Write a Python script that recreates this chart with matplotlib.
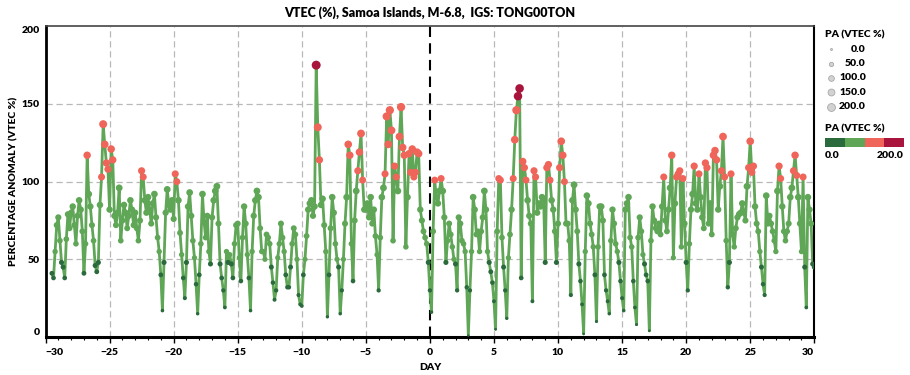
import numpy as np
import matplotlib
matplotlib.use("Agg")
import matplotlib.pyplot as plt
from matplotlib.patches import Rectangle

title = "VTEC (%), Samoa Islands, M-6.8,  IGS: TONG00TON"
step = 3 / 24  # 3-hourly samples, expressed in days

# PA (VTEC %) before the event, 8 samples a day, starting at day -29.5
pa_before = [
    41, 38, 55, 72,
    77, 62, 48, 45, 38, 63, 79, 70,      # -29
    80, 84, 72, 60, 78, 88, 82, 68,      # -28
    41, 60, 117, 92, 84, 72, 62, 46,     # -27
    42, 48, 85, 103, 137, 124, 112, 108, # -26
    82, 121, 114, 78, 72, 80, 96, 62,    # -25
    75, 85, 80, 70, 78, 88, 82, 72,      # -24
    80, 70, 62, 75, 107, 103, 88, 80,    # -23
    90, 82, 73, 86, 92, 77, 64, 55,      # -22
    40, 17, 48, 80, 95, 85, 82, 88,      # -21
    76, 105, 100, 88, 67, 53, 38, 25,    # -20
    48, 84, 93, 78, 62, 51, 34, 15,      # -19
    40, 60, 92, 74, 64, 78, 55, 47,      # -18
    77, 88, 94, 97, 73, 47, 38, 30,      # -17
    19, 55, 48, 53, 47, 38, 60, 72,      # -16
    73, 51, 36, 64, 84, 73, 53, 38,      # -15
    17, 55, 78, 88, 94, 90, 70, 55,      # -14
    55, 50, 66, 64, 60, 45, 35, 24,      # -13
    30, 51, 60, 73, 64, 55, 40, 32,      # -12
    32, 45, 60, 70, 66, 50, 27, 21,      # -11
    20, 40, 50, 65, 82, 86, 88, 78,      # -10
    84, 175, 135, 114, 85, 89, 72, 55,   # -9
    13, 40, 70, 90, 80, 60, 50, 45,      # -8
    15, 30, 50, 73, 90, 124, 117, 60,    # -7
    36, 75, 94, 107, 119, 131, 101, 82,  # -6
    82, 86, 77, 90, 73, 82, 65, 53,      # -5
    30, 64, 90, 96, 105, 142, 124, 146,  # -4
    133, 62, 110, 103, 94, 129, 148, 122, # -3
    117, 58, 90, 118, 106, 121, 103, 106, # -2
    119, 118, 82, 75, 68, 64, 60, 48,    # -1
]

# PA (VTEC %) from the event day on, 8 samples a day, day 0 to day 30
pa_after = [
    30, 16, 68, 101, 90, 86, 94, 102,    # 0
    94, 77, 48, 62, 73, 66, 58, 50,      # 1
    47, 30, 77, 73, 62, 60, 55, 32,      # 2
    1, 30, 55, 90, 82, 66, 68, 55,       # 3
    68, 77, 94, 82, 55, 48, 42, 35,      # 4
    23, 5, 68, 102, 101, 64, 45, 30,     # 5
    12, 51, 66, 82, 102, 127, 146, 155,  # 6
    160, 38, 113, 109, 101, 88, 78, 73,  # 7
    23, 107, 103, 80, 86, 84, 90, 88,    # 8
    48, 109, 111, 101, 88, 82, 68, 48,   # 9
    73, 109, 126, 117, 100, 73, 73, 62,  # 10
    27, 88, 98, 82, 68, 47, 36, 21,      # 11
    2, 55, 91, 86, 73, 66, 58, 40,       # 12
    10, 58, 84, 84, 75, 40, 30, 23,      # 13
    15, 62, 82, 73, 60, 55, 48, 36,      # 14
    25, 17, 82, 86, 90, 64, 58, 36,      # 15
    19, 8, 64, 77, 68, 53, 47, 40,       # 16
    36, 4, 62, 84, 75, 70, 68, 73,       # 17
    66, 84, 103, 75, 68, 82, 96, 117,    # 18
    51, 86, 103, 105, 107, 58, 102, 73,  # 19
    48, 30, 60, 82, 92, 110, 86, 82,     # 20
    105, 90, 77, 70, 112, 109, 73, 86,   # 21
    66, 117, 120, 114, 82, 97, 107, 129, # 22
    103, 62, 32, 48, 105, 66, 58, 70,    # 23
    77, 79, 80, 86, 80, 75, 97, 109,     # 24
    126, 106, 110, 84, 73, 68, 55, 45,   # 25
    34, 27, 91, 73, 78, 73, 68, 62,      # 26
    55, 94, 110, 102, 84, 68, 62, 68,    # 27
    73, 90, 96, 107, 117, 104, 90, 73,   # 28
    55, 103, 45, 19, 90, 82, 73, 47,     # 29
    45,
]

bin_edges = [50, 100, 150]
bin_colors = ["#2b6a3d", "#5fa657", "#f0655a", "#a8143c"]
size_levels = [0.0, 50.0, 100.0, 150.0, 200.0]

x_before = -29.5 + np.arange(len(pa_before)) * step
x_after = np.arange(len(pa_after)) * step
days = np.concatenate([x_before, x_after])
pa = np.array(pa_before + pa_after, dtype=float)

plt.rcParams["font.family"] = ["Lato", "DejaVu Sans"]
FW = "heavy"

fig = plt.figure(figsize=(9.1, 3.75), dpi=100)
ax = fig.add_axes([45.5 / 910, 1 - 337 / 375, (814.3 - 45.5) / 910, (337 - 26.3) / 375])

# grid
for d in [-25, -20, -15, -10, -5, 5, 10, 15, 20, 25]:
    ax.axvline(d, color="#b8b8b8", lw=0.9, ls=(0, (5, 3)), zorder=0)
for v in [50, 100, 150]:
    ax.axhline(v, color="#b8b8b8", lw=0.9, ls=(0, (5, 3)), zorder=0)
ax.axvline(0, color="black", lw=1.5, ls=(0, (5, 3)), zorder=1)

ax.plot(days, pa, color=bin_colors[1], lw=2.0, zorder=2)
cat = np.digitize(pa, bin_edges)
ax.scatter(days, pa, s=pa * 0.22 + 3, c=[bin_colors[k] for k in cat],
           linewidths=0, zorder=3)

ax.set_xlim(-30, 30)
ax.set_ylim(0, 200)
ax.set_xticks(np.arange(-30, 31, 5))
ax.set_xticks(np.arange(-30, 31, 1), minor=True)
ax.set_yticks([0, 50, 100, 150, 200])
ax.tick_params(axis="x", which="major", length=4, width=1, pad=4, labelsize=7.5)
ax.tick_params(axis="x", which="minor", length=2.5, width=0.8)
ax.tick_params(axis="y", length=0, pad=4, labelsize=7.5)
fig.canvas.draw()
for lab in ax.get_xticklabels() + ax.get_yticklabels():
    lab.set_fontweight(FW)
ylabels = ax.get_yticklabels()
ylabels[0].set_va("bottom")
ylabels[-1].set_va("top")
xlabels = ax.get_xticklabels()
xlabels[0].set_ha("left")
xlabels[-1].set_ha("right")

for side, lw, col in [("left", 2.0, "black"), ("bottom", 2.2, "black"),
                      ("top", 1.2, "#444444"), ("right", 1.5, "black")]:
    ax.spines[side].set_linewidth(lw)
    ax.spines[side].set_color(col)

fig.text(430 / 910, 1 - 13 / 375, title, ha="center", va="center",
         fontsize=9, fontweight=FW)
fig.text(430 / 910, 1 - 368 / 375, "DAY", ha="center", va="center",
         fontsize=7.5, fontweight=FW)
fig.text(14 / 910, 1 - 181.5 / 375, "PERCENTAGE ANOMALY (VTEC %)", ha="center",
         va="center", rotation=90, fontsize=7.5, fontweight=FW)

# legends, drawn in pixel coordinates
lax = fig.add_axes([0, 0, 1, 1])
lax.set_xlim(0, 910)
lax.set_ylim(375, 0)
lax.axis("off")

lax.text(825, 35, "PA (VTEC %)", ha="left", va="center", fontsize=7.5, fontweight=FW)
label_x = [851, 845, 839, 839, 839]
for i, lv in enumerate(size_levels):
    yy = 49.3 + i * 14.35
    lax.scatter([831], [yy], s=lv * 0.15 + 2, color="#d2d2d2",
                edgecolors="#a8a8a8", linewidths=0.6)
    lax.text(label_x[i], yy, f"{lv:.1f}", ha="left", va="center", fontsize=7.5,
             fontweight=FW)

lax.text(825, 129.3, "PA (VTEC %)", ha="left", va="center", fontsize=7.5, fontweight=FW)
bw = (904 - 825) / 4
for i, c in enumerate(bin_colors):
    lax.add_patch(Rectangle((825 + i * bw, 138), bw, 9, color=c, lw=0))
lax.text(825, 156, "0.0", ha="left", va="center", fontsize=7.5, fontweight=FW)
lax.text(904, 156, "200.0", ha="right", va="center", fontsize=7.5, fontweight=FW)

fig.savefig("out.png", dpi=100)
